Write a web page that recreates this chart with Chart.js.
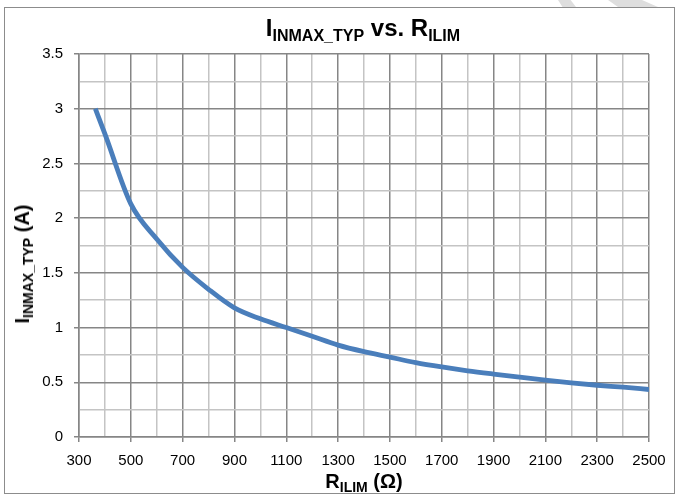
<!DOCTYPE html>
<html><head><meta charset="utf-8">
<script src="https://cdn.jsdelivr.net/npm/chart.js@4/dist/chart.umd.min.js"></script>
<style>
html,body{margin:0;padding:0;background:#fff;}
#wrap{position:relative;width:679px;height:499px;overflow:hidden;font-family:"Liberation Sans",Arial,sans-serif;}
#frame{position:absolute;left:4px;top:7px;width:671px;height:487px;border:1px solid #8c8c8c;box-sizing:border-box;}
.wm{position:absolute;top:0;height:7px;background:#dedede;}
#wm1{left:558px;width:18px;clip-path:polygon(0 0,70% 0,100% 100%,25% 100%);}
#wm2{left:608px;width:50px;clip-path:polygon(0 0,68% 0,100% 100%,20% 100%);}
canvas{position:absolute;left:0;top:0;}
.t{position:absolute;font-weight:bold;color:#000;white-space:nowrap;line-height:1;}
.t sub{vertical-align:baseline;position:relative;}
#title{font-size:24px;left:363px;top:16px;transform:translateX(-50%);}
#title sub{font-size:16px;top:5px;}
#xt{font-size:20px;left:364px;top:471px;transform:translateX(-50%);}
#xt sub,#yt sub{font-size:14px;top:4px;}
#yt{font-size:20px;left:22px;top:264px;transform:translate(-50%,-50%) rotate(-90deg);}
</style></head>
<body>
<div id="wrap">
<div class="wm" id="wm1"></div>
<div class="wm" id="wm2"></div>
<div id="frame"></div>
<canvas id="c" width="679" height="499"></canvas>
<div class="t" id="title">I<sub>INMAX_TYP</sub> vs. R<sub>ILIM</sub></div>
<div class="t" id="yt">I<sub>INMAX_TYP</sub> (A)</div>
<div class="t" id="xt">R<sub>ILIM</sub> (Ω)</div>
</div>
<script>
const rValues = [363, 400, 500, 600, 700, 800, 900, 1000, 1100, 1200, 1300, 1400, 1500, 1600, 1700, 1800, 1900, 2000, 2100, 2200, 2300, 2400, 2500];
const iValues = [3.00, 2.77, 2.13, 1.81, 1.55, 1.35, 1.18, 1.08, 1.00, 0.92, 0.84, 0.78, 0.73, 0.68, 0.64, 0.605, 0.575, 0.547, 0.52, 0.495, 0.473, 0.455, 0.434];
const xMin = 300, xMax = 2500, xStep = 100, xLabelStep = 200;
const yMin = 0, yMax = 3.5, yStep = 0.25, yLabelStep = 0.5;

const MAJOR = '#868686', MINOR = '#c4c4c4';
Chart.defaults.font.family = '"Liberation Sans", Arial, sans-serif';
Chart.defaults.color = '#000';

const isXMajor = v => Math.abs(((v - xMin) / xLabelStep) - Math.round((v - xMin) / xLabelStep)) < 1e-6;
const isYMajor = v => Math.abs((v / yLabelStep) - Math.round(v / yLabelStep)) < 1e-6;

new Chart(document.getElementById('c'), {
  type: 'line',
  data: {
    datasets: [{
      data: rValues.map((r, i) => ({x: r, y: iValues[i]})),
      borderColor: '#4a7ebb',
      borderWidth: 4.8,
      pointRadius: 0,
      fill: false,
      cubicInterpolationMode: 'monotone',
      borderCapStyle: 'butt'
    }]
  },
  options: {
    responsive: false,
    animation: false,
    devicePixelRatio: 1,
    layout: {padding: {left: 0, right: 30, top: 54, bottom: 0}},
    plugins: {legend: {display: false}, tooltip: {enabled: false}, title: {display: false}},
    scales: {
      x: {
        type: 'linear', min: xMin, max: xMax,
        afterFit: s => { s.height = 62; },
        ticks: {
          stepSize: xStep, autoSkip: false, maxRotation: 0, padding: 10,
          font: {size: 15},
          callback: v => isXMajor(v) ? String(v) : ''
        },
        grid: {
          color: c => isXMajor(c.tick.value) ? MAJOR : MINOR,
          tickColor: c => isXMajor(c.tick.value) ? MAJOR : 'rgba(0,0,0,0)',
          tickLength: 5, lineWidth: 1.5
        },
        border: {color: MAJOR, width: 1.5}
      },
      y: {
        type: 'linear', min: yMin, max: yMax,
        afterFit: s => { s.width = 79; },
        ticks: {
          stepSize: yStep, autoSkip: false, padding: 11,
          font: {size: 15},
          callback: v => isYMajor(v) ? String(Math.round(v * 100) / 100) : ''
        },
        grid: {
          color: c => isYMajor(c.tick.value) ? MAJOR : MINOR,
          tickColor: c => isYMajor(c.tick.value) ? MAJOR : 'rgba(0,0,0,0)',
          tickLength: 5, lineWidth: 1.5
        },
        border: {color: MAJOR, width: 1.5}
      }
    }
  }
});
</script>
</body></html>
